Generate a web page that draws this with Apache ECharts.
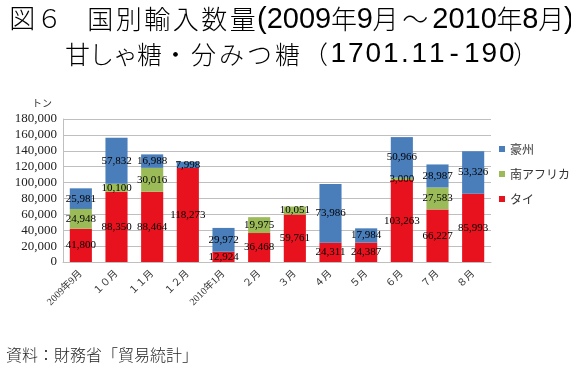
<!DOCTYPE html>
<html><head><meta charset="utf-8">
<script src="https://cdn.jsdelivr.net/npm/echarts@6/dist/echarts.min.js"></script>
<style>html,body{margin:0;padding:0;background:#fff}#c{width:571px;height:371px}</style>
</head><body><div id="c"></div>
<script>
const categories = ['2009年9月','１０月','１１月','１２月','2010年1月','２月','３月','４月','５月','６月','７月','８月'];
const thai = [41800, 88350, 88464, 118273, 12924, 36468, 59761, 24311, 24387, 103263, 66227, 85993];
const southAfrica = [24948, 10100, 30016, 0, 0, 19975, 10051, 0, 0, 3000, 27583, 0];
const australia = [25981, 57832, 16988, 7998, 29972, 0, 0, 73986, 17984, 50966, 28987, 53326];

const serif = '"Liberation Serif","DejaVu Serif","Noto Sans CJK JP",serif';
const cjk = '"Noto Sans CJK JP",sans-serif';
const sans = '"Liberation Sans",sans-serif';
const ink = '#262626';
const fmt = v => v.toLocaleString('en-US');
const lbl = {
  show: true, position: 'inside', color: '#000', fontFamily: serif, fontSize: 11,
  formatter: p => p.value ? fmt(p.value) : ''
};
// split a string into per-character rich tokens of a given style
const each = (s, st) => Array.from(s).map(ch => '{' + st + '|' + ch + '}').join('');

const r1 = {
  a: {fontFamily: cjk, fontWeight: 300, fontSize: 26, color: ink, width: 28.5, align: 'center', lineHeight: 30},
  k: {fontFamily: cjk, fontWeight: 300, fontSize: 26, color: ink, width: 25.5, align: 'center', lineHeight: 30},
  w: {fontFamily: cjk, fontWeight: 300, fontSize: 26, color: ink, width: 34, align: 'left', lineHeight: 30},
  n: {fontFamily: sans, fontSize: 29, color: ink, lineHeight: 30}
};
const r2 = {
  a: {fontFamily: cjk, fontWeight: 300, fontSize: 25, color: ink, width: 24, align: 'center', lineHeight: 28},
  b: {fontFamily: cjk, fontWeight: 300, fontSize: 25, color: ink, width: 28, align: 'center', lineHeight: 28},
  c: {fontFamily: cjk, fontWeight: 300, fontSize: 25, color: ink, width: 20, align: 'left', lineHeight: 28},
  d: {fontFamily: sans, fontSize: 28, color: ink, width: 17.5, align: 'center', lineHeight: 28},
  p: {fontFamily: sans, fontSize: 28, color: ink, width: 11, align: 'center', lineHeight: 28}
};
const line1 = each('国別輸入数量', 'a') + '{n|(2009}{k|年}{n|9}{k|月}{w|～}{n|2010}{k|年}{n|8}{k|月}{n|)}';
const line2 = each('甘しゃ糖', 'a') + '{b|・}' + each('分みつ糖', 'b') + '{b|（}' +
  Array.from('1701.11-190').map(ch => ch === '.' ? '{p|.}' : '{d|' + ch + '}').join('') + '{c|）}';

const chart = echarts.init(document.getElementById('c'), null, {renderer: 'canvas'});
chart.setOption({
  animation: false,
  textStyle: {fontFamily: cjk},
  graphic: [
    {type: 'text', left: 8, top: 5, style: {text: '{a|図}{k|６}', rich: r1}},
    {type: 'text', left: 86, top: 5, style: {text: line1, rich: r1}},
    {type: 'text', left: 65, top: 40, style: {text: line2, rich: r2}},
    {type: 'text', left: 32, top: 98, style: {text: 'トン', fontSize: 10, fill: '#333', fontFamily: cjk}},
    {type: 'text', left: 6, top: 347, style: {text: '資料：財務省「貿易統計」', fontSize: 16, fontWeight: 300, fill: ink, fontFamily: cjk}}
  ],
  legend: {
    orient: 'vertical', left: 499, top: 143, itemGap: 13, padding: 0,
    itemWidth: 6, itemHeight: 6, icon: 'rect',
    data: ['豪州', '南アフリカ', 'タイ'],
    textStyle: {fontSize: 12, color: '#333', fontFamily: cjk}
  },
  grid: {left: 63, right: 80, top: 119, bottom: 109},
  xAxis: {
    type: 'category', data: categories,
    axisLine: {lineStyle: {color: '#bfbfbf'}},
    axisTick: {show: false},
    axisLabel: {rotate: 45, fontSize: 10, color: '#333', fontFamily: serif, interval: 0, margin: 10}
  },
  yAxis: {
    type: 'value', min: 0, max: 180000, interval: 20000,
    axisLine: {show: true, lineStyle: {color: '#bfbfbf'}},
    splitLine: {lineStyle: {color: '#bfbfbf'}},
    axisLabel: {fontFamily: serif, fontSize: 13, color: '#222', formatter: v => fmt(v), margin: 6}
  },
  series: [
    {name: 'タイ', type: 'bar', stack: 's', data: thai, barWidth: '62%', itemStyle: {color: '#E8121E'}, label: lbl},
    {name: '南アフリカ', type: 'bar', stack: 's', data: southAfrica, itemStyle: {color: '#9BBB59'}, label: lbl},
    {name: '豪州', type: 'bar', stack: 's', data: australia, itemStyle: {color: '#4A7EBB'}, label: lbl}
  ]
});
</script></body></html>
